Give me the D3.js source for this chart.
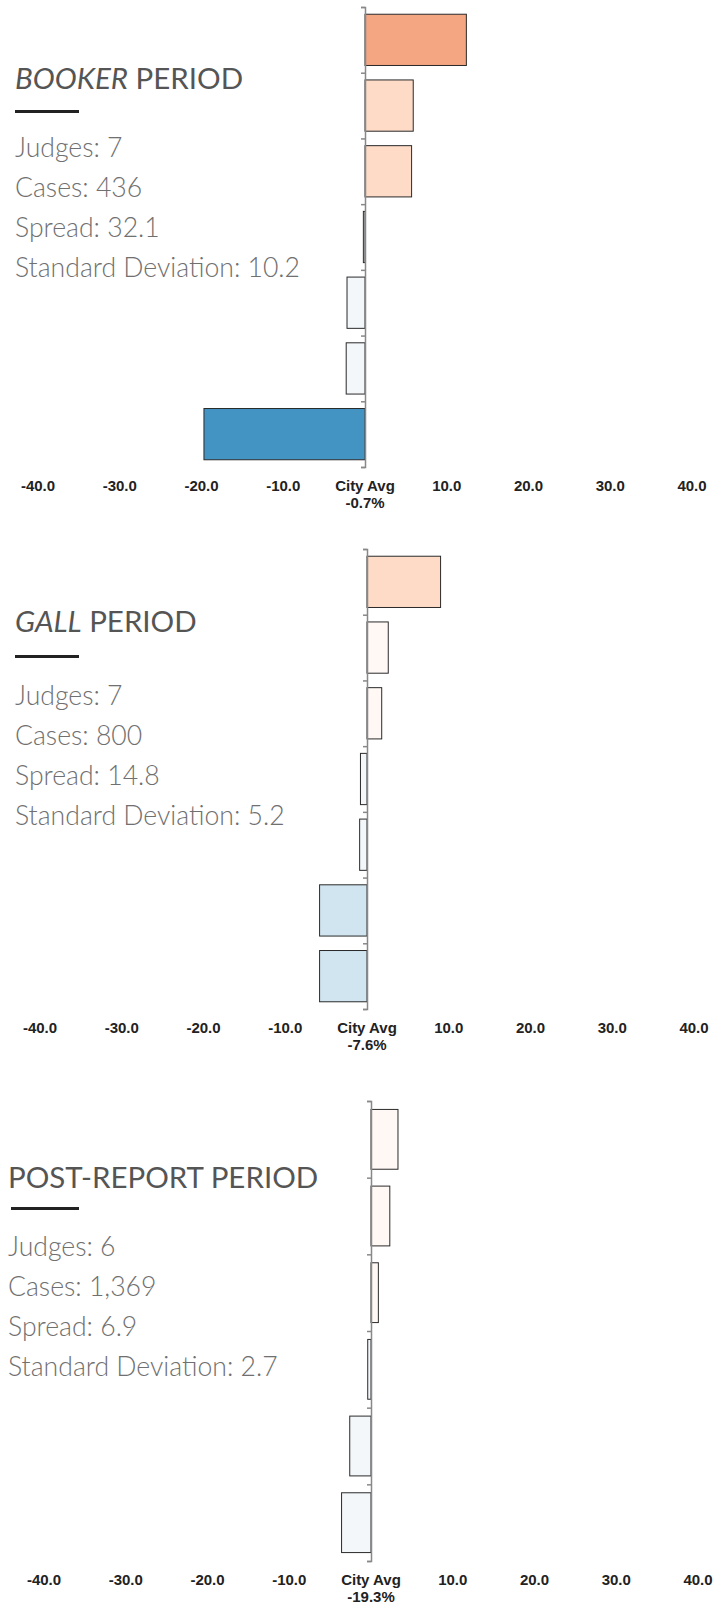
<!DOCTYPE html>
<html>
<head>
<meta charset="utf-8">
<script src="https://d3js.org/d3.v7.min.js"></script>
<style>
  body { margin: 0; padding: 0; background: #fff; }
  .title { font-family: Lato, sans-serif; font-size: 29.5px; fill: #555; }
  .stat { font-family: Lato, sans-serif; font-weight: 300; font-size: 26.6px; fill: #707070; }
  .tick-label { font-family: "Liberation Sans", Arial, sans-serif; font-weight: bold; font-size: 15px; fill: #222; }
  .bar { stroke: #2a2a2a; stroke-width: 1; }
  .yaxis path, .yaxis line { stroke: #888; stroke-width: 1.5; }
</style>
</head>
<body>
<script>
// one entry per period
const periodNames = ["BOOKER", "GALL", "POST-REPORT"];
const nameItalic = [true, true, false];
const judges = [7, 7, 6];
const cases = [436, 800, 1369];
const spread = [32.1, 14.8, 6.9];
const stdDev = [10.2, 5.2, 2.7];
const cityAvg = [-0.7, -7.6, -19.3];

// judge difference from city average, top to bottom
const bookerDiff = [12.4, 5.9, 5.7, -0.2, -2.2, -2.3, -19.7];
const gallDiff = [9.0, 2.6, 1.8, -0.8, -0.9, -5.8, -5.8];
const postDiff = [3.3, 2.3, 0.9, -0.4, -2.6, -3.6];
const diffs = [bookerDiff, gallDiff, postDiff];

const xTicks = [-40, -30, -20, -10, 0, 10, 20, 30, 40];

// layout per panel
const panelTop = [7, 549, 1101];
const zeroX = [365, 367, 371];
const textX = [15, 15, 8];
const titleY = [89, 632, 1188];
const ruleY = [111.5, 656.5, 1208.5];
const statY = [157, 705, 1256];

const W = 728, H = 1604, plotH = 460, halfW = 327;

const color = d3.scaleThreshold()
    .domain([-15, -5, 0, 5, 10, 15])
    .range(["#4393c3", "#d1e5f0", "#f3f7fa", "#fff8f5", "#fddbc7", "#f4a582", "#d6604d"]);

const svg = d3.select("body").append("svg")
    .attr("width", W)
    .attr("height", H);

// plain hyphen for negatives, like the original
const fmt = d3.formatLocale({decimal: ".", thousands: ",", grouping: [3], currency: ["", ""], minus: "-"}).format(".1f");

periodNames.forEach((name, p) => {
    const g = svg.append("g");
    const vals = diffs[p];

    // left side text block
    const title = g.append("text")
        .attr("class", "title")
        .attr("x", textX[p])
        .attr("y", titleY[p]);
    title.append("tspan")
        .style("font-style", nameItalic[p] ? "italic" : "normal")
        .text(name);
    title.append("tspan").text(" PERIOD");

    g.append("line")
        .attr("x1", textX[p] + (p == 2 ? 3 : 0))
        .attr("x2", 79)
        .attr("y1", ruleY[p])
        .attr("y2", ruleY[p])
        .attr("stroke", "#222")
        .attr("stroke-width", 3);

    const stats = [
        "Judges: " + judges[p],
        "Cases: " + d3.format(",")(cases[p]),
        "Spread: " + fmt(spread[p]),
        "Standard Deviation: " + fmt(stdDev[p])
    ];
    g.selectAll(".stat")
        .data(stats)
        .enter().append("text")
        .attr("class", "stat")
        .attr("x", textX[p])
        .attr("y", (d, i) => statY[p] + i * 40)
        .text(d => d);

    // chart
    const x = d3.scaleLinear()
        .domain([-40, 40])
        .range([zeroX[p] - halfW, zeroX[p] + halfW]);

    const y = d3.scaleBand()
        .domain(d3.range(vals.length))
        .range([panelTop[p], panelTop[p] + plotH])
        .paddingInner(0.22)
        .paddingOuter(0.11);

    const yLin = d3.scaleLinear()
        .domain([0, vals.length])
        .range([panelTop[p], panelTop[p] + plotH]);

    g.selectAll(".bar")
        .data(vals)
        .enter().append("rect")
        .attr("class", "bar")
        .attr("x", d => x(Math.min(0, d)))
        .attr("y", (d, i) => y(i))
        .attr("width", d => Math.abs(x(d) - x(0)))
        .attr("height", y.bandwidth())
        .attr("fill", d => color(d));

    g.append("g")
        .attr("class", "yaxis")
        .attr("transform", "translate(" + x(0) + ",0)")
        .call(d3.axisLeft(yLin)
            .tickValues(d3.range(vals.length + 1))
            .tickSize(4)
            .tickSizeOuter(4)
            .tickFormat(""));

    const labels = g.selectAll(".tick-label")
        .data(xTicks)
        .enter().append("text")
        .attr("class", "tick-label")
        .attr("text-anchor", "middle")
        .attr("x", d => x(d))
        .attr("y", panelTop[p] + plotH + 24);

    labels.filter(d => d != 0).text(d => fmt(d));
    const avg = labels.filter(d => d == 0);
    avg.append("tspan").attr("x", x(0)).text("City Avg");
    avg.append("tspan").attr("x", x(0)).attr("dy", 17).text(fmt(cityAvg[p]) + "%");
});
</script>
</body>
</html>
